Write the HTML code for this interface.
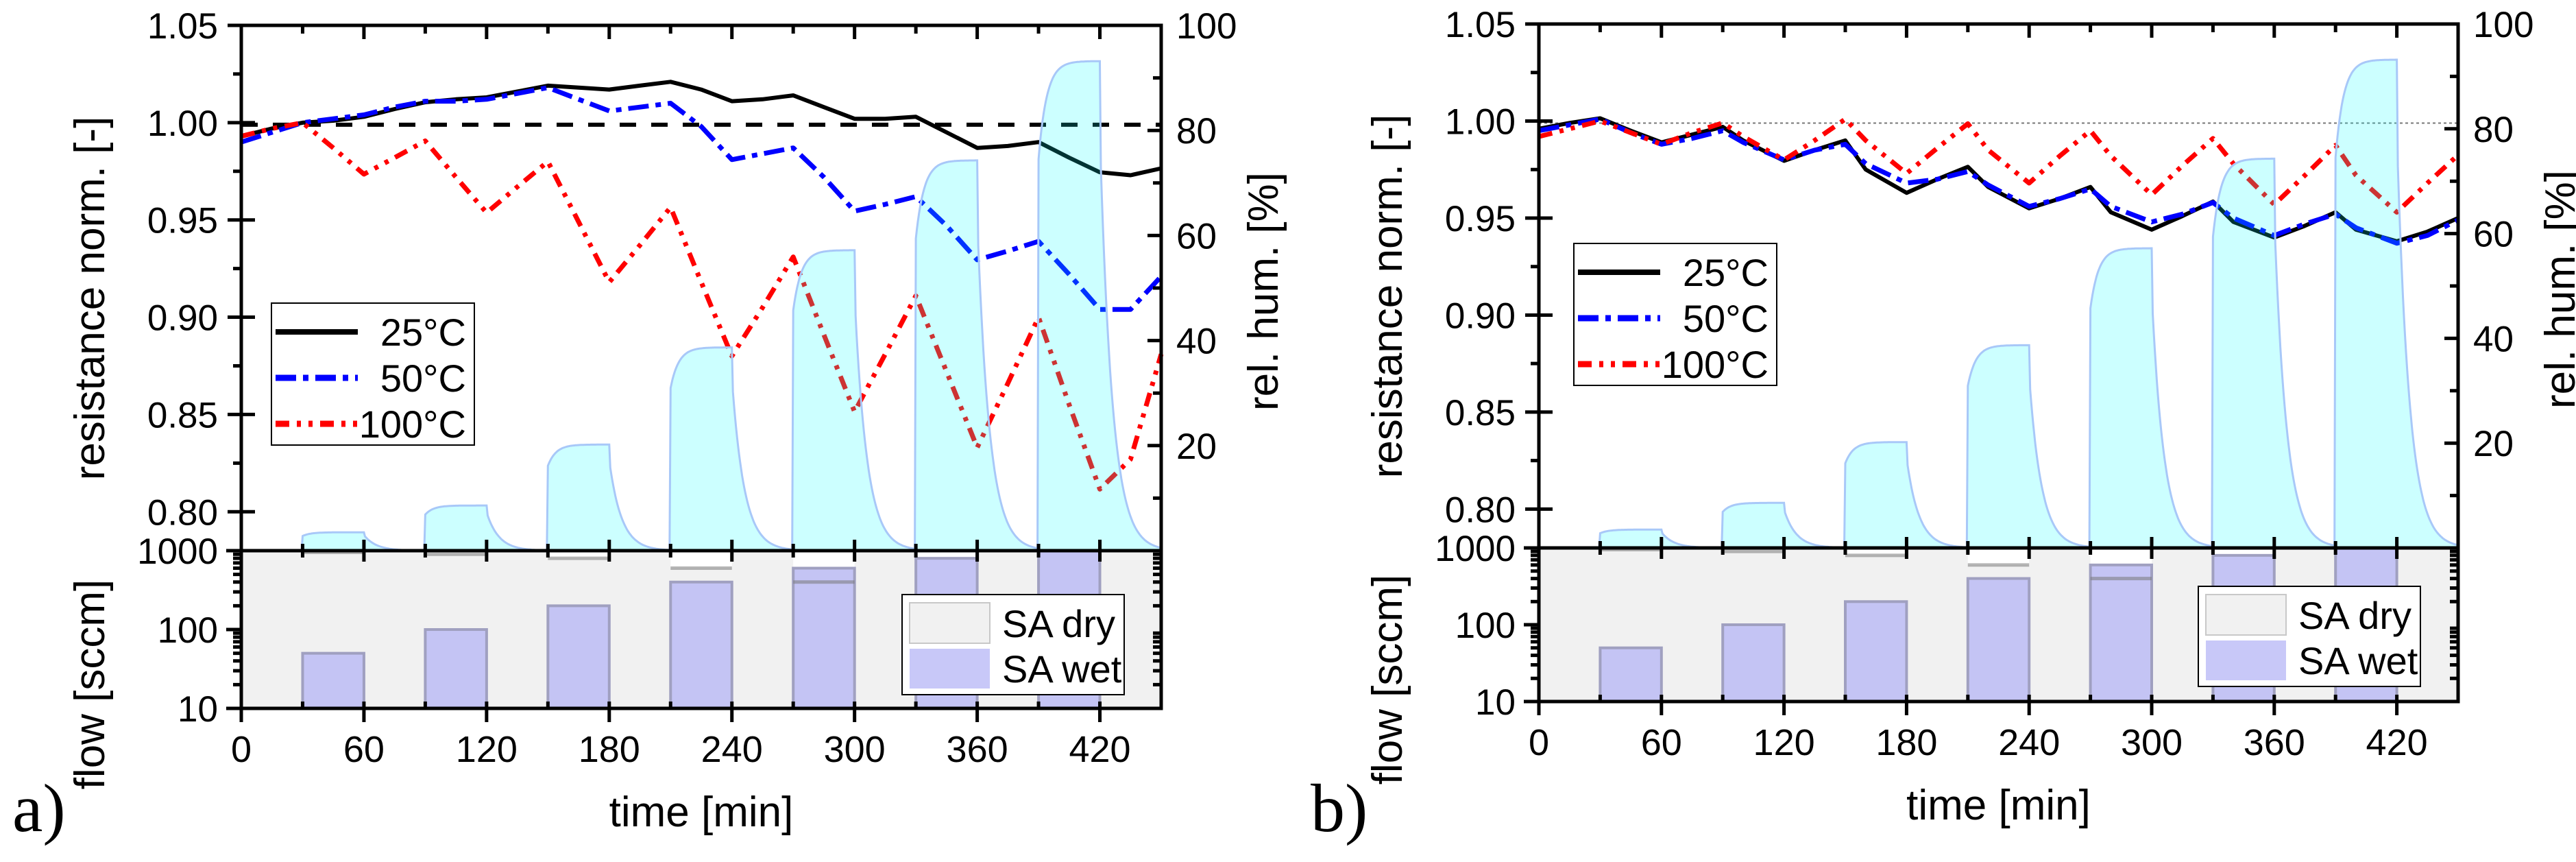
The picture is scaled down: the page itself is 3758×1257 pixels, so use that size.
<!DOCTYPE html>
<html><head><meta charset="utf-8">
<style>
html,body{margin:0;padding:0;background:#fff;}
svg{display:block;font-family:"Liberation Sans",sans-serif;}
</style></head>
<body>
<svg id="chart" width="3758" height="1257" viewBox="0 0 3758 1257" xmlns="http://www.w3.org/2000/svg"></svg>
<script>
// ---- data ----
const xTicks = [0,60,120,180,240,300,360,420];
const yTicksRes = [0.80,0.85,0.90,0.95,1.00,1.05];
const yTicksRH = [20,40,60,80,100];
const yTicksFlow = [10,100,1000];
const tA = [0,15,30,45,60,75,90,105,120,135,150,165,180,195,210,225,240,255,270,285,300,315,330,345,360,375,390,405,420,435,450];
const a25 = [0.993,0.997,1.000,1.001,1.003,1.007,1.0105,1.012,1.013,1.016,1.019,1.018,1.017,1.019,1.021,1.017,1.011,1.012,1.014,1.008,1.002,1.002,1.003,0.995,0.987,0.988,0.990,0.982,0.9745,0.973,0.9765];
const a50 = [0.990,0.995,1.000,1.002,1.004,1.008,1.011,1.011,1.012,1.015,1.018,1.012,1.006,1.008,1.010,0.998,0.981,0.984,0.987,0.972,0.9545,0.958,0.962,0.947,0.9295,0.934,0.939,0.922,0.904,0.904,0.921];
const a100 = [0.993,0.997,1.000,0.987,0.9735,0.982,0.9906,0.972,0.9537,0.967,0.980,0.949,0.918,0.937,0.9565,0.918,0.880,0.905,0.931,0.891,0.8514,0.881,0.911,0.872,0.833,0.866,0.900,0.855,0.8116,0.827,0.881];
const tB = [0,15,30,45,60,75,90,100,120,135,150,160,180,195,210,220,240,255,270,280,300,315,330,340,360,375,390,400,420,435,450];
const b25 = [0.996,0.999,1.0014,0.995,0.989,0.993,0.997,0.990,0.9795,0.985,0.990,0.975,0.963,0.970,0.9764,0.966,0.955,0.960,0.966,0.953,0.944,0.951,0.9585,0.948,0.940,0.946,0.953,0.944,0.938,0.943,0.950];
const b50 = [0.995,0.998,1.001,0.994,0.988,0.991,0.995,0.989,0.980,0.985,0.988,0.978,0.968,0.970,0.974,0.967,0.956,0.960,0.965,0.956,0.948,0.952,0.958,0.950,0.941,0.947,0.952,0.945,0.937,0.941,0.949];
const b100 = [0.992,0.996,1.000,0.994,0.988,0.994,0.999,0.992,0.980,0.990,1.001,0.990,0.973,0.986,0.9986,0.985,0.968,0.982,0.995,0.982,0.962,0.977,0.991,0.978,0.957,0.972,0.9875,0.972,0.953,0.968,0.9825];
const rhStart = [30,90,150,210,270,330,390];
const rhEnd = [60,120,180,240,300,360,420];
const rhLevel = [3.5,8.6,20.2,38.7,57.2,74.3,93.2];
const wetFlow = [50,100,200,400,600,800,1000];
const dryFlow = [950,900,800,600,400,200,10];
const legendLabels = ["25°C","50°C","100°C"];

// ---- helpers ----
const NS = "http://www.w3.org/2000/svg";
const svg = document.getElementById('chart');
function mk(tag, attrs, parent){
  const e = document.createElementNS(NS, tag);
  for (const k in attrs) e.setAttribute(k, attrs[k]);
  (parent||svg).appendChild(e);
  return e;
}
function txt(s, attrs, parent){ const e = mk('text', attrs, parent); e.textContent = s; return e; }

const styles = {
  "25": {stroke:"#000", dash:"none", w:6},
  "50": {stroke:"#0000ff", dash:"30 10 8 10", w:7},
  "100": {stroke:"#ff0000", dash:"20 11 6 11 6 11", w:7}
};

function rhValue(t){
  for (let i=0;i<rhStart.length;i++){
    const s=rhStart[i], e=rhEnd[i], L=rhLevel[i];
    if (t>=s && t<=e) return L*(1-0.2*Math.exp(-(t-s)/4));
    const next = i+1<rhStart.length ? rhStart[i+1] : 1e9;
    if (t>e && t<next){ const top=L*(1-0.2*Math.exp(-(e-s)/4)); return top*0.85*Math.exp(-(t-e)/6); }
  }
  return 0;
}

function panel(P){
  const g = mk('g', {});
  
  
  const X = t => P.L + t/450*(P.R-P.L);
  const Y = v => P.T + (1.05-v)/0.27*(P.S-P.T);
  const YH = h => P.S - h/100*(P.S-P.T);
  const YF = f => P.S + (3-Math.log10(f))/2*(P.B-P.S);

  const bg = mk('rect',{x:P.L,y:P.S,width:P.R-P.L,height:P.B-P.S,fill:"#f1f1f1"},g);
  
  
  for (let i=0;i<rhStart.length;i++){
    const x0=X(rhStart[i]), x1=X(rhEnd[i]);
    const notch = mk('rect',{x:x0,y:P.S,width:x1-x0,height:Math.max(0,YF(dryFlow[i])-P.S),fill:"#fff"},g);
    
    
    const bar = mk('rect',{x:x0,y:YF(wetFlow[i]),width:x1-x0,height:P.B-YF(wetFlow[i]),fill:"#c4c4f4",stroke:"#a0a0c0","stroke-width":4},g);
    
    
    const dl = mk('path',{d:`M${x0} ${YF(dryFlow[i])}H${x1}`,stroke:"rgba(120,120,120,0.55)","stroke-width":5,fill:"none"},g);
    
    
  }

  const ref = mk('path',{d:`M${P.L} ${Y(1.0)+3}H${P.R}`,fill:"none",stroke:P.refStroke,"stroke-width":P.refW,"stroke-dasharray":P.refDash},g);
  
  

  [["25",P.s25],["50",P.s50],["100",P.s100]].forEach(([k,arr])=>{
    const st=styles[k];
    const d = arr.map((v,i)=>(i?'L':'M')+X(P.t[i]).toFixed(1)+' '+Y(v).toFixed(1)).join('');
    const p = mk('path',{d,fill:"none",stroke:st.stroke,"stroke-width":st.w,"stroke-dasharray":st.dash,"stroke-linejoin":"round"},g);
    
    
  });

  let d = `M${X(0)} ${P.S}`;
  for (let t=0;t<=450;t+=0.5) d += `L${X(t).toFixed(1)} ${YH(rhValue(t)).toFixed(1)}`;
  d += `L${X(450)} ${P.S}Z`;
  const rh = mk('path',{d,fill:"rgba(0,255,255,0.2)",stroke:"#a8c8f8","stroke-width":3},g);
  
  

  const ax = mk('path',{d:`M${P.L} ${P.T}H${P.R}V${P.B}H${P.L}Z M${P.L} ${P.S}H${P.R}`,fill:"none",stroke:"#000","stroke-width":5},g);
  
  

  let td='';
  for (let t=0;t<=450;t+=30){
    const x=X(t);
    const major = t%60===0;
    td += `M${x} ${P.T}v${major?20:12}`;
    td += `M${x} ${P.S-(major?16:10)}v${major?32:20}`;
    td += `M${x} ${P.B-10}v${major?30:10}`;
  }
  for (let v=0.775;v<=1.051;v+=0.025){
    const y=Y(v); if (y>P.S) continue;
    const major = Math.abs(v*20-Math.round(v*20))<1e-6;
    td += major ? `M${P.L-20} ${y}h40` : `M${P.L-12} ${y}h12`;
  }
  for (let h=10;h<=100;h+=10){
    const y=YH(h); const major=h%20===0;
    td += `M${P.R-(major?20:12)} ${y}h${major?20:12}`;
  }
  for (let dec=10;dec<1000;dec*=10){
    for (let m=1;m<=10;m++){
      const y=YF(dec*m);
      if (m===1||m===10){ td += `M${P.L-22} ${y}h22M${P.R} ${y}h-2`; }
      else { td += `M${P.L-12} ${y}h12M${P.R-12} ${y}h12`; }
    }
  }
  const tk = mk('path',{d:td,fill:"none",stroke:"#000","stroke-width":5},g);
  
  

  xTicks.forEach(t=>{
    const e=txt(String(t),{x:X(t),y:P.B+78,"font-size":54,"text-anchor":"middle"},g);
    
    
  });
  yTicksRes.forEach(v=>{
    const e=txt(v.toFixed(2),{x:P.L-34,y:Y(v)+19,"font-size":53,"text-anchor":"end"},g);
    
    
  });
  yTicksRH.forEach(h=>{
    const e=txt(String(h),{x:P.R+22,y:YH(h)+19,"font-size":53},g);
    
    
  });
  yTicksFlow.forEach(f=>{
    const e=txt(String(f),{x:P.L-34,y:YF(f)+19,"font-size":53,"text-anchor":"end"},g);
    
    
  });

  let e=txt("time [min]",{x:(P.L+P.R)/2,y:P.B+172,"font-size":62,"text-anchor":"middle"},g);
   
  e=txt("resistance norm. [-]",{x:0,y:0,"font-size":62,"text-anchor":"middle",transform:`translate(${P.L-200},${(P.T+P.S)/2+15}) rotate(-90)`},g);
   
  e=txt("flow [sccm]",{x:0,y:0,"font-size":62,"text-anchor":"middle",transform:`translate(${P.L-200},${(P.S+P.B)/2+80}) rotate(-90)`},g);
   
  e=txt("rel. hum. [%]",{x:0,y:0,"font-size":62,"text-anchor":"middle",transform:`translate(${P.R+170},${(P.T+P.S)/2+5}) rotate(-90)`},g);
   
  e=txt(P.label,{x:P.labX,y:1212,"font-size":100,"font-family":"Liberation Serif, serif"},g);
   

  const lg = mk('g',{},g);
  
  
  mk('rect',{x:P.lgX,y:P.lgY,width:296,height:207,fill:"#fff",stroke:"#000","stroke-width":2},lg);
  ["25","50","100"].forEach((k,i)=>{
    const st=styles[k]; const yy=P.lgY+42+i*67;
    const ln = mk('path',{d:`M${P.lgX+6} ${yy}h120`,stroke:st.stroke,"stroke-width":st.w+2,"stroke-dasharray":st.dash,fill:"none"},lg);
    
    
    const t=txt(legendLabels[i],{x:P.lgX+284,y:yy+20,"font-size":56,"text-anchor":"end"},lg);
    
    
  });

  const fg = mk('g',{},g);
  
  
  mk('rect',{x:P.flX,y:P.flY,width:324,height:146,fill:"#fff",stroke:"#000","stroke-width":2},fg);
  mk('rect',{x:P.flX+11,y:P.flY+12,width:117,height:59,fill:"#f1f1f1",stroke:"#c8c8c8","stroke-width":2},fg);
  mk('rect',{x:P.flX+11,y:P.flY+79,width:117,height:58,fill:"#c8c8f8"},fg);
  e=txt("SA dry",{x:P.flX+146,y:P.flY+62,"font-size":56},fg);
   
  e=txt("SA wet",{x:P.flX+146,y:P.flY+128,"font-size":56},fg);
   
}

panel({name:"panel-a",L:352,R:1694,T:37,S:803,B:1033,t:tA,s25:a25,s50:a50,s100:a100,
  refStroke:"#000",refW:6,refDash:"24 22",label:"a)",labX:18,lgX:396,lgY:442,flX:1316,flY:867});
panel({name:"panel-b",L:2245,R:3586,T:35,S:799,B:1023,t:tB,s25:b25,s50:b50,s100:b100,
  refStroke:"#777",refW:2,refDash:"4 4",label:"b)",labX:1912,lgX:2296,lgY:355,flX:3207,flY:855});
</script>
</body></html>
